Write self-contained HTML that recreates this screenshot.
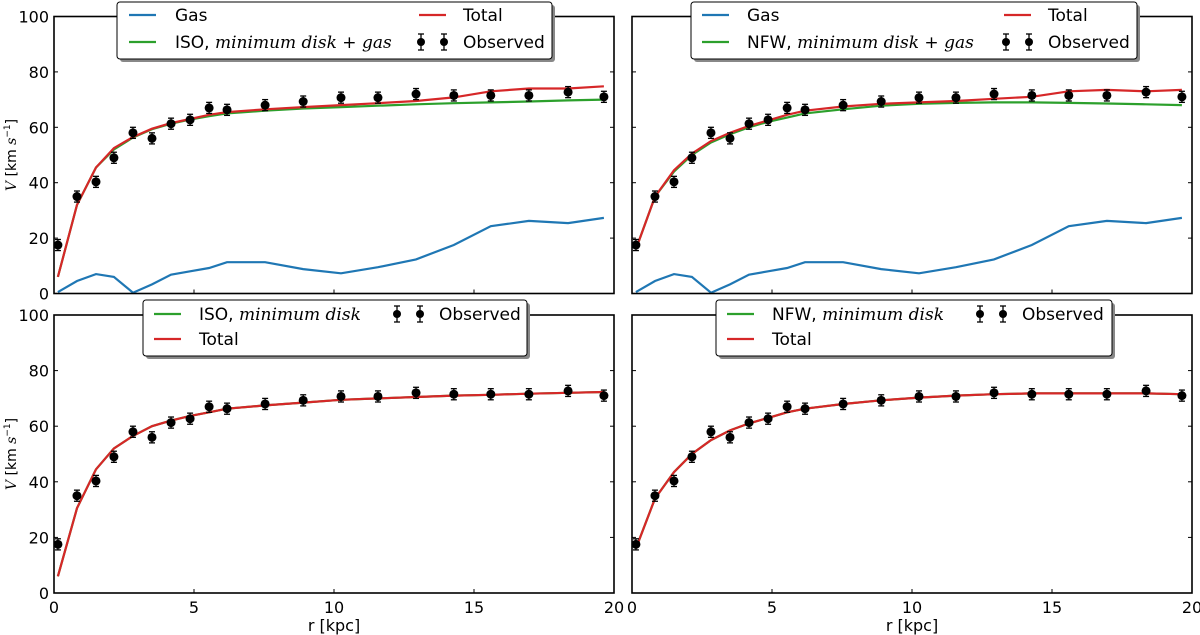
<!DOCTYPE html>
<html><head><meta charset="utf-8"><style>
html,body{margin:0;padding:0;background:#fff;}
svg{display:block;font-family:"DejaVu Sans","Liberation Sans",sans-serif;}
.m{font-family:"DejaVu Serif","Liberation Serif",serif;font-style:italic;}
</style></head><body>
<svg id="c" width="1200" height="635" xmlns="http://www.w3.org/2000/svg"></svg>
<script>
const radius = [0.14,0.82,1.5,2.14,2.82,3.5,4.18,4.86,5.54,6.18,7.54,8.9,10.25,11.57,12.93,14.28,15.6,16.96,18.36,19.64];
const observed = [17.5,35,40.3,49,58,56,61.3,62.7,67,66.3,68,69.3,70.7,70.7,72,71.5,71.5,71.5,72.7,71];
const obsError = [2,2,2,2,2,2,2,2,2,2,2,2,2,2,2,2,2,2,2,2];
const gas = [0.5,4.5,7,6,0.3,3.3,6.8,8,9.2,11.3,11.3,8.8,7.3,9.5,12.3,17.5,24.3,26.2,25.4,27.3];
const isoGasHalo = [6,32,45.5,52,56.3,59.3,61.3,62.8,64,65,66,66.8,67.3,67.8,68.3,68.7,69,69.3,69.7,70];
const isoGasTotal = [6,32,45.5,52.5,56.5,59.5,61.5,63,64.5,65.5,66.5,67.3,68,68.7,69.5,70.8,73,74,74,74.8];
const nfwGasHalo = [16,35,44,50,54.5,57.5,60,62,63.5,65,66.5,67.8,68.5,68.8,69,69,68.8,68.6,68.3,68];
const nfwGasTotal = [16,35,44.5,50.5,55,58,60.5,62.5,64.5,66,67.5,68.5,69,69.5,70.3,71,73,73.5,73,73.5];
const isoMinTotal = [6,30.5,44.5,52,56.5,60,62,63.7,65,66.3,67.5,68.5,69.5,70,70.5,71,71.3,71.7,72,72.3];
const nfwMinTotal = [16,34,43.5,50,55,58.5,61,63,65,66.3,68,69.3,70.3,71,71.5,71.8,71.8,71.8,71.8,71.5];
const xTicks = [0,5,10,15,20];
const yTicks = [0,20,40,60,80,100];

const NS="http://www.w3.org/2000/svg";
const svg=document.getElementById('c');
function mk(tag,attrs,parent){const e=document.createElementNS(NS,tag);for(const k in attrs)e.setAttribute(k,attrs[k]);(parent||svg).appendChild(e);return e;}

const panels=[
 {name:'iso-gas',x0:54,x1:614,y0:16.5,y1:293.5,left:true,bottom:false,series:[['gas',gas,'#1f77b4'],['iso-halo',isoGasHalo,'#2ca02c'],['total',isoGasTotal,'#d62728']]},
 {name:'nfw-gas',x0:632,x1:1192,y0:16.5,y1:293.5,left:false,bottom:false,series:[['gas',gas,'#1f77b4'],['nfw-halo',nfwGasHalo,'#2ca02c'],['total',nfwGasTotal,'#d62728']]},
 {name:'iso-min',x0:54,x1:614,y0:315,y1:593,left:true,bottom:true,series:[['iso-halo',isoMinTotal,'#2ca02c'],['total',isoMinTotal,'#d62728']]},
 {name:'nfw-min',x0:632,x1:1192,y0:315,y1:593,left:false,bottom:true,series:[['nfw-halo',nfwMinTotal,'#2ca02c'],['total',nfwMinTotal,'#d62728']]}
];

panels.forEach(p=>{
 const g=mk('g',{});
 
 
 const sx=v=>p.x0+(v-0)/20*(p.x1-p.x0);
 const sy=v=>p.y1-(v-0)/100*(p.y1-p.y0);
 xTicks.forEach(t=>{
  const x=sx(t);
  mk('line',{x1:x,x2:x,y1:p.y1,y2:p.y1-4,stroke:'#000','stroke-width':1},g);
  mk('line',{x1:x,x2:x,y1:p.y0,y2:p.y0+4,stroke:'#000','stroke-width':1},g);
  if(p.bottom){const tx=mk('text',{x:x,y:p.y1+20,'text-anchor':'middle','font-size':16},g);tx.textContent=t;
   }
 });
 yTicks.forEach(t=>{
  const y=sy(t);
  mk('line',{x1:p.x0,x2:p.x0+4,y1:y,y2:y,stroke:'#000','stroke-width':1},g);
  mk('line',{x1:p.x1,x2:p.x1-4,y1:y,y2:y,stroke:'#000','stroke-width':1},g);
  if(p.left){const tx=mk('text',{x:p.x0-5,y:y+6,'text-anchor':'end','font-size':16},g);tx.textContent=t;
   }
 });
 p.series.forEach(s=>{
  const pts=radius.map((r,i)=>sx(r).toFixed(1)+','+sy(s[1][i]).toFixed(1)).join(' ');
  const pl=mk('polyline',{points:pts,fill:'none',stroke:s[2],'stroke-width':2.2},g);
  
  
 });
 radius.forEach((r,i)=>{
  const x=sx(r),y=sy(observed[i]),yt=sy(observed[i]+obsError[i]),yb=sy(observed[i]-obsError[i]);
  const eg=mk('g',{},g);
  
  
  mk('line',{x1:x,x2:x,y1:yt,y2:yb,stroke:'#000','stroke-width':1.3},eg);
  mk('line',{x1:x-3,x2:x+3,y1:yt,y2:yt,stroke:'#000','stroke-width':1.3},eg);
  mk('line',{x1:x-3,x2:x+3,y1:yb,y2:yb,stroke:'#000','stroke-width':1.3},eg);
  mk('circle',{cx:x,cy:y,r:4.5,fill:'#000'},eg);
 });
 const fr=mk('rect',{x:p.x0,y:p.y0,width:p.x1-p.x0,height:p.y1-p.y0,fill:'none',stroke:'#000','stroke-width':1.6},g);
 
 
 if(p.left){
  const yl=mk('text',{transform:`translate(16,${(p.y0+p.y1)/2}) rotate(-90)`,'text-anchor':'middle','font-size':14},g);
  
  
  yl.innerHTML='<tspan class="m">V</tspan> [km <tspan class="m">s</tspan><tspan font-size="9" dy="-6">−1</tspan><tspan dy="6">]</tspan>';
 }
 if(p.bottom){
  const xl=mk('text',{x:(p.x0+p.x1)/2,y:631,'text-anchor':'middle','font-size':16},g);
  
  
  xl.textContent='r [kpc]';
 }
});

function legend(name,x,y,w,h,entries){
 const g=mk('g',{});
 
 
 mk('rect',{x:x+3,y:y+3,width:w,height:h,rx:3,fill:'#888'},g);
 mk('rect',{x:x,y:y,width:w,height:h,rx:3,fill:'#fff',stroke:'#000','stroke-width':1},g);
 entries.forEach(e=>{
  const ex=x+e[0],ey=y+e[1];
  const eg=mk('g',{},g);
  
  
  if(e[2]==='obs'){
   [ex+2,ex+25].forEach(cx=>{mk('line',{x1:cx,x2:cx,y1:ey-8,y2:ey+8,stroke:'#000','stroke-width':1.3},eg);
    mk('line',{x1:cx-3,x2:cx+3,y1:ey-8,y2:ey-8,stroke:'#000','stroke-width':1.3},eg);
    mk('line',{x1:cx-3,x2:cx+3,y1:ey+8,y2:ey+8,stroke:'#000','stroke-width':1.3},eg);
    mk('circle',{cx:cx,cy:ey,r:4,fill:'#000'},eg);});
  } else mk('line',{x1:ex,x2:ex+27,y1:ey,y2:ey,stroke:e[2],'stroke-width':2.2},eg);
  const t=mk('text',{x:ex+e[3],y:ey+6,'font-size':17},eg);
  t.innerHTML=e[4];
 });
}
legend('legend-iso-gas',117,2,435,57,[[12,13,'#1f77b4',46,'Gas'],[12,40,'#2ca02c',46,'ISO, <tspan class="m">minimum disk</tspan> + <tspan class="m">gas</tspan>'],[302,13,'#d62728',44,'Total'],[302,40,'obs',44,'Observed']]);
legend('legend-nfw-gas',691,2,446,57,[[11,13,'#1f77b4',45,'Gas'],[11,40,'#2ca02c',45,'NFW, <tspan class="m">minimum disk</tspan> + <tspan class="m">gas</tspan>'],[313,13,'#d62728',44,'Total'],[313,40,'obs',44,'Observed']]);
legend('legend-iso-min',143,300,384,56,[[11,14,'#2ca02c',45,'ISO, <tspan class="m">minimum disk</tspan>'],[11,39,'#d62728',45,'Total'],[252,14,'obs',44,'Observed']]);
legend('legend-nfw-min',716,300,396,56,[[11,14,'#2ca02c',45,'NFW, <tspan class="m">minimum disk</tspan>'],[11,39,'#d62728',45,'Total'],[262,14,'obs',44,'Observed']]);
</script>
</body></html>
